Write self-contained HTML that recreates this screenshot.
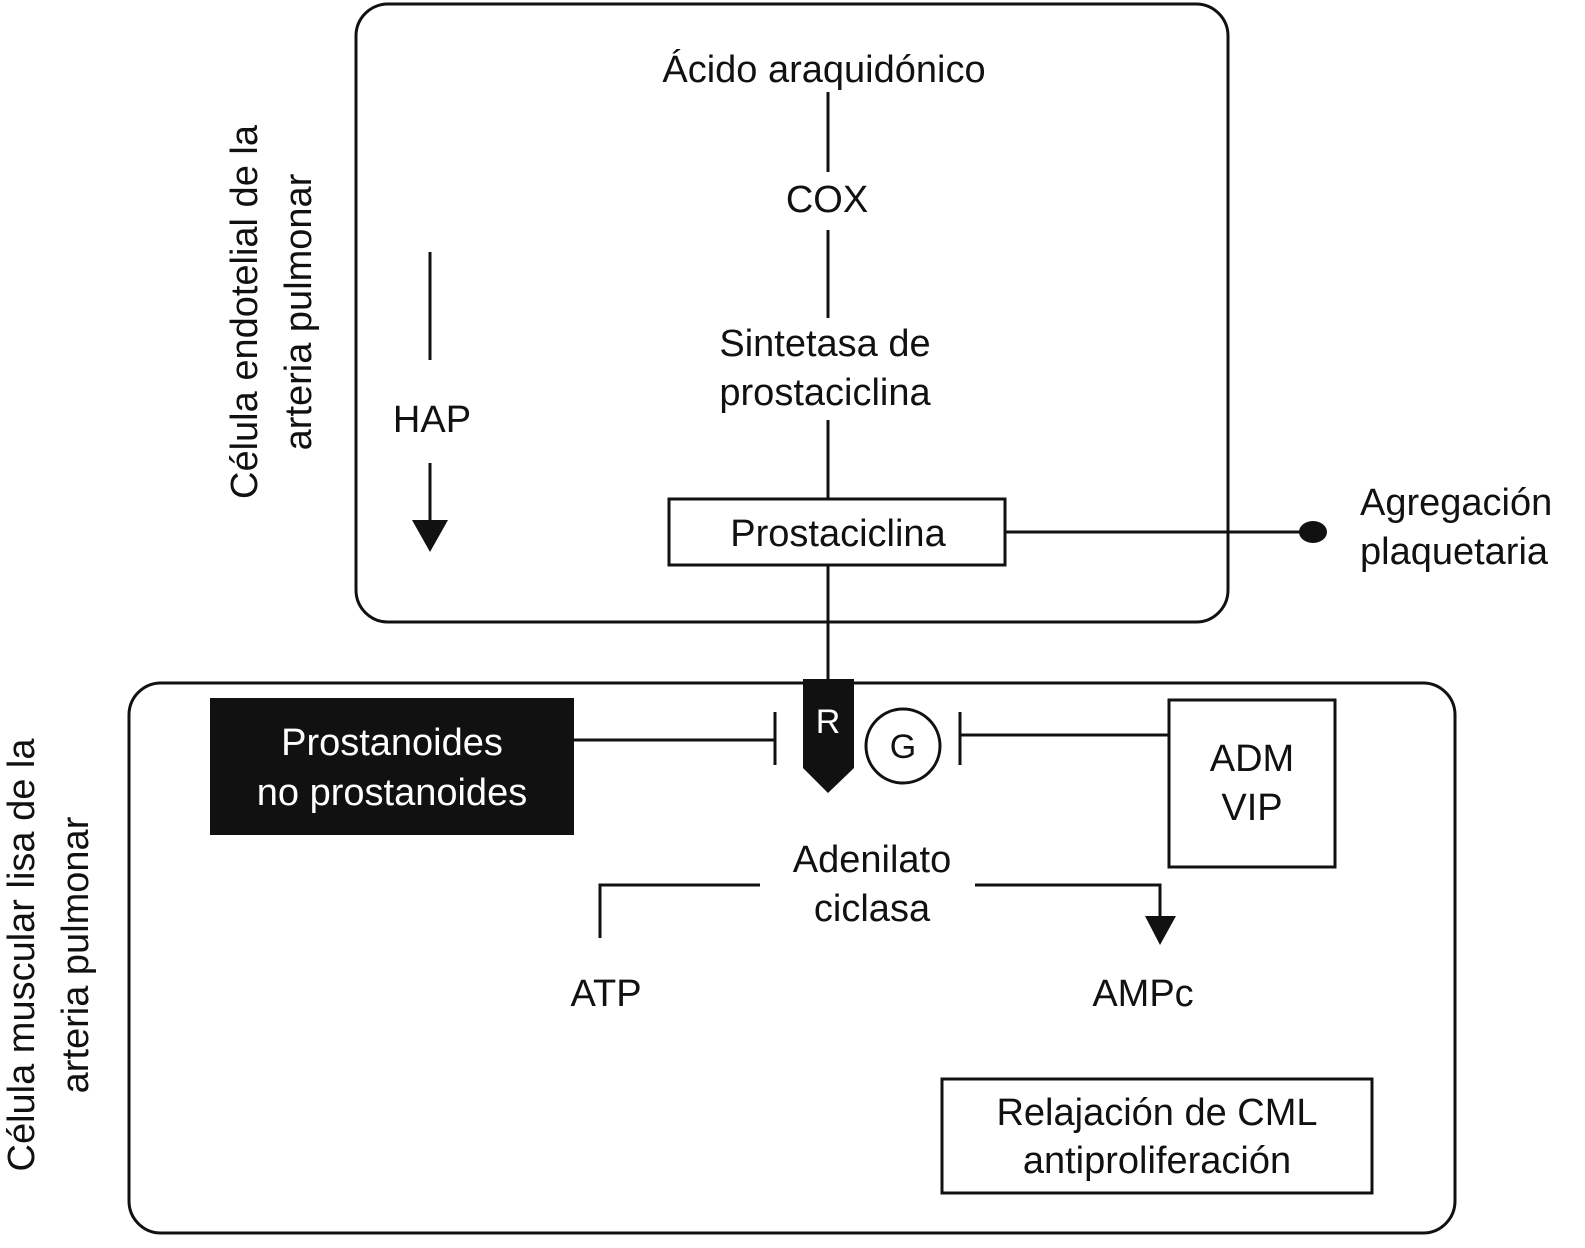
<!DOCTYPE html>
<html><head><meta charset="utf-8"><style>
html,body{margin:0;padding:0;background:#fff}
svg{display:block}
text{font-family:"Liberation Sans",sans-serif;font-size:38px;fill:#111}
</style></head><body>
<svg width="1585" height="1248" viewBox="0 0 1585 1248" xmlns="http://www.w3.org/2000/svg">
<g fill="none" stroke="#111" stroke-width="3">
<rect x="356" y="4" width="872" height="618" rx="32"/>
<rect x="129" y="683" width="1326" height="550" rx="32"/>
<line x1="828" y1="92" x2="828" y2="172"/>
<line x1="828" y1="230" x2="828" y2="318"/>
<line x1="828" y1="420" x2="828" y2="498"/>
<line x1="828" y1="565" x2="828" y2="684"/>
<rect x="669" y="499" width="336" height="66"/>
<line x1="1005" y1="532" x2="1305" y2="532"/>
<line x1="430" y1="252" x2="430" y2="360"/>
<line x1="430" y1="463" x2="430" y2="525"/>
<line x1="573" y1="740" x2="775" y2="740"/>
<line x1="775" y1="712" x2="775" y2="765"/>
<line x1="960" y1="735" x2="1168" y2="735"/>
<line x1="960" y1="712" x2="960" y2="765"/>
<circle cx="903" cy="746" r="37"/>
<rect x="1169" y="700" width="166" height="167"/>
<polyline points="600,938 600,885 760,885"/>
<polyline points="975,885 1160,885 1160,920"/>
<rect x="942" y="1079" width="430" height="114"/>
</g>
<ellipse cx="1313" cy="532" rx="14" ry="11" fill="#111"/>
<polygon points="412,520 448,520 430,552" fill="#111"/>
<polygon points="1145,916 1176,916 1160,945" fill="#111"/>
<rect x="210" y="698" width="364" height="137" fill="#111"/>
<polygon points="803,679 854,679 854,768 828,793 803,768" fill="#111"/>
<text x="824" y="82" text-anchor="middle">Ácido araquidónico</text>
<text x="827" y="212" text-anchor="middle">COX</text>
<text x="825" y="356" text-anchor="middle">Sintetasa de</text>
<text x="825" y="405" text-anchor="middle">prostaciclina</text>
<text x="838" y="546" text-anchor="middle">Prostaciclina</text>
<text x="1360" y="515">Agregación</text>
<text x="1360" y="564">plaquetaria</text>
<text x="432" y="432" text-anchor="middle">HAP</text>
<text transform="translate(257,312) rotate(-90)" text-anchor="middle">Célula endotelial de la</text>
<text transform="translate(311,312) rotate(-90)" text-anchor="middle">arteria pulmonar</text>
<text transform="translate(34,955) rotate(-90)" text-anchor="middle">Célula muscular lisa de la</text>
<text transform="translate(88,955) rotate(-90)" text-anchor="middle">arteria pulmonar</text>
<text x="392" y="755" text-anchor="middle" style="fill:#fff">Prostanoides</text>
<text x="392" y="805" text-anchor="middle" style="fill:#fff">no prostanoides</text>
<text x="828" y="733" text-anchor="middle" style="fill:#fff;font-size:34px">R</text>
<text x="903" y="758" text-anchor="middle" style="font-size:34px">G</text>
<text x="1252" y="771" text-anchor="middle">ADM</text>
<text x="1252" y="820" text-anchor="middle">VIP</text>
<text x="872" y="872" text-anchor="middle">Adenilato</text>
<text x="872" y="921" text-anchor="middle">ciclasa</text>
<text x="606" y="1006" text-anchor="middle">ATP</text>
<text x="1143" y="1006" text-anchor="middle">AMPc</text>
<text x="1157" y="1125" text-anchor="middle">Relajación de CML</text>
<text x="1157" y="1173" text-anchor="middle">antiproliferación</text>
</svg>
</body></html>
